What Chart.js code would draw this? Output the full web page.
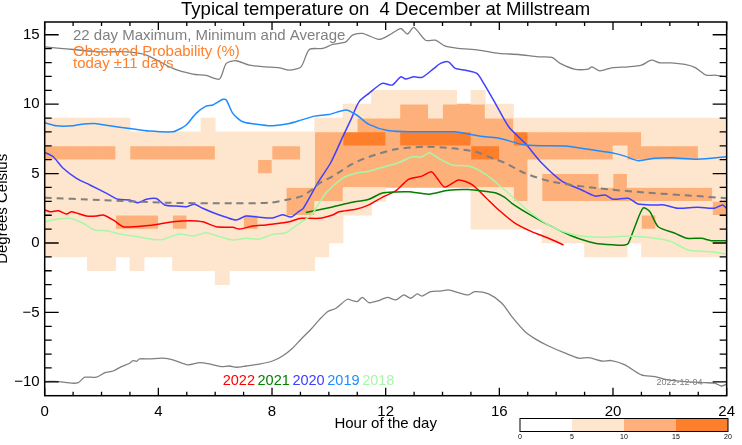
<!DOCTYPE html>
<html lang="en">
<head>
<meta charset="UTF-8">
<title>Typical temperature on 4 December at Millstream</title>
<script src="https://cdn.jsdelivr.net/npm/chart.js@4"></script>
<style>
  html, body { margin: 0; padding: 0; background: #fff; }
</style>
</head>
<body>
<canvas id="chart" width="742" height="445"></canvas>
<script>
// series, as [hour, degrees C]
const max22 = [[0,14.13],[0.54,14.02],[1.0,13.94],[1.94,13.77],[2.88,13.77],[3.58,13.54],[4.51,12.58],[5.21,12.17],[5.68,12.07],[6.15,11.81],[6.39,12.94],[6.74,13.13],[7.2,12.81],[7.79,12.69],[8.26,12.62],[8.61,12.45],[9.02,12.69],[9.31,13.94],[9.78,14.02],[10.13,14.3],[10.6,14.49],[10.83,14.97],[11.18,15.1],[11.76,14.67],[12.12,14.97],[12.53,15.45],[12.76,15.05],[12.99,15.53],[13.4,14.61],[13.75,14.61],[14.1,14.18],[14.57,14.02],[15.27,13.9],[15.98,13.66],[16.68,13.58],[17.38,13.41],[17.85,13.37],[18.14,12.94],[18.67,12.51],[19.13,12.53],[19.25,12.69],[19.54,12.4],[19.95,12.62],[20.54,12.69],[21.0,12.81],[21.35,13.17],[21.65,12.98],[22.05,12.98],[22.53,12.87],[22.88,12.65],[23.28,12.09],[23.58,12.09],[24,11.97]];
const min22 = [[0,-9.98],[0.48,-9.98],[0.95,-10.1],[1.18,-10.06],[1.41,-9.67],[1.82,-9.67],[2.12,-9.34],[2.41,-9.22],[2.7,-8.9],[2.99,-8.66],[3.11,-8.47],[3.23,-8.52],[3.34,-8.35],[3.69,-8.35],[4.16,-8.3],[4.51,-8.42],[5.04,-8.78],[5.45,-8.62],[5.8,-8.71],[6.21,-8.9],[6.5,-8.86],[6.74,-8.95],[7.09,-8.86],[7.55,-8.73],[8.02,-8.5],[8.37,-8.14],[8.72,-7.58],[9.02,-6.93],[9.37,-6.21],[9.66,-5.54],[9.95,-4.95],[10.25,-4.7],[10.65,-4.05],[10.83,-4.15],[11.0,-4.22],[11.18,-3.91],[11.41,-4.3],[11.76,-4.15],[12.06,-3.91],[12.35,-4.1],[12.64,-3.74],[12.88,-3.98],[13.11,-3.67],[13.28,-3.82],[13.58,-3.5],[13.93,-3.46],[14.21,-3.38],[14.56,-3.58],[14.91,-3.74],[15.13,-3.5],[15.62,-3.67],[16.09,-4.34],[16.44,-5.3],[16.91,-6.39],[17.32,-6.98],[17.73,-7.42],[18.32,-7.94],[18.8,-8.3],[19.15,-8.26],[19.6,-8.5],[19.95,-8.47],[20.42,-8.78],[21.0,-9.5],[21.47,-9.63],[21.94,-9.86],[22.53,-9.98],[23.23,-10.06],[23.58,-10.1],[23.81,-10.3],[24,-10.17]];
const avg22 = [[0,3.26],[1.94,3.1],[4.28,2.9],[6.62,2.86],[7.91,2.9],[8.61,3.15],[9.07,3.4],[9.43,3.87],[9.66,4.3],[10.13,4.8],[10.83,5.7],[11.41,6.2],[12.35,6.75],[13.4,6.93],[14.34,6.82],[15.16,6.57],[15.86,6.03],[16.19,5.78],[16.91,5.02],[17.85,4.41],[19.48,3.94],[21.23,3.62],[22.98,3.38],[24,3.22]];
const y2022 = [[0,2.38],[0.19,2.25],[0.48,2.33],[0.77,2.09],[0.95,2.25],[1.47,1.94],[1.82,1.94],[2.06,2.02],[2.41,1.66],[2.76,1.17],[3.11,1.17],[3.46,1.22],[4.05,1.37],[4.51,1.53],[5.1,1.61],[5.56,1.53],[6.04,1.17],[6.62,1.13],[6.85,1.01],[7.32,1.22],[7.79,1.3],[8.26,1.42],[8.61,1.53],[9.02,1.78],[9.66,1.78],[10.13,2.02],[10.36,2.25],[10.95,2.43],[11.41,2.75],[11.88,3.29],[12.35,3.75],[12.82,4.6],[13.28,4.82],[13.61,5.13],[13.81,4.66],[14.08,4.03],[14.57,4.54],[15.04,4.2],[15.51,3.3],[15.98,2.38],[16.56,1.42],[17.14,0.82],[17.73,0.34],[18.26,-0.14]];
const y2021 = [[9.19,2.2],[10.13,2.6],[10.83,2.93],[11.41,3.15],[11.88,3.6],[12.35,3.68],[12.82,3.69],[13.52,3.52],[14.21,3.8],[14.91,3.85],[15.62,3.69],[15.86,3.62],[16.19,3.29],[16.44,2.86],[17.03,2.1],[17.73,1.3],[18.55,0.5],[19.37,-0.02],[20.07,-0.14],[20.42,-0.14],[20.54,-0.02],[20.77,1.17],[21.06,2.52],[21.3,2.25],[21.59,1.17],[22.18,0.7],[22.6,0.34],[23.11,0.34],[23.46,0.17],[24,0.17]];
const y2020 = [[0,6.53],[0.3,6.21],[0.65,5.38],[1.12,4.66],[1.59,4.18],[2.18,3.58],[2.58,3.15],[2.99,3.1],[3.28,2.9],[3.58,3.15],[3.93,3.2],[4.22,2.74],[4.63,2.66],[4.98,2.61],[5.27,2.79],[5.56,2.5],[5.98,2.14],[6.39,1.85],[6.74,1.66],[7.09,1.94],[7.55,1.85],[8.02,1.8],[8.37,2.04],[8.67,1.87],[8.96,2.3],[9.1,2.5],[9.6,4.3],[10.07,5.8],[10.5,7.7],[10.8,9.0],[11.06,10.17],[11.41,10.78],[11.88,11.5],[12.23,11.38],[12.53,11.97],[12.7,11.81],[12.99,11.97],[13.28,11.93],[13.7,12.58],[13.93,12.94],[14.21,13.05],[14.45,12.58],[14.81,12.45],[15.21,12.22],[15.45,11.5],[15.86,10.06],[16.33,8.37],[16.91,7.18],[17.5,5.74],[18.2,4.46],[18.9,3.82],[19.37,3.38],[19.72,3.46],[20.01,3.15],[20.54,3.22],[20.88,2.81],[21.47,2.74],[21.8,2.74],[22.28,2.5],[22.98,2.57],[23.56,2.5],[23.85,2.74],[24,2.5]];
const y2019 = [[0,8.66],[0.42,8.44],[1.0,8.44],[1.24,8.54],[1.76,8.61],[2.29,8.44],[2.99,8.25],[3.69,8.06],[4.51,8.01],[4.75,8.21],[4.98,8.5],[5.33,9.34],[5.68,9.86],[5.92,9.94],[6.27,10.35],[6.39,10.3],[6.62,9.34],[6.97,8.73],[7.67,8.5],[8.02,8.44],[8.61,8.61],[9.02,8.85],[9.5,9.14],[10.0,9.25],[10.6,9.58],[10.98,9.22],[11.41,8.55],[12.12,8.08],[13.05,8.01],[13.75,8.01],[14.45,8.01],[14.91,7.85],[15.51,7.65],[16.0,7.55],[16.91,7.06],[18.32,6.98],[19.13,6.75],[19.95,6.5],[20.42,6.26],[20.88,5.93],[21.47,6.1],[22.05,6.14],[22.98,6.03],[24,6.21]];
const y2018 = [[0,1.53],[0.42,1.71],[0.89,1.78],[1.35,1.42],[1.76,0.94],[2.18,0.89],[2.64,0.65],[3.23,0.46],[3.81,0.26],[4.16,0.26],[4.75,0.65],[5.21,0.5],[5.68,0.74],[6.15,0.46],[6.62,0.22],[7.09,0.34],[7.55,0.28],[8.02,0.62],[8.49,0.74],[8.96,1.42],[9.31,1.89],[9.43,2.14],[9.9,3.6],[10.48,4.66],[10.95,5.02],[11.41,5.17],[11.76,5.38],[12.47,5.8],[12.93,6.21],[13.28,6.21],[13.53,6.5],[13.86,6.1],[14.34,5.62],[14.91,5.54],[15.51,4.96],[16.19,3.82],[17.03,2.3],[17.85,1.17],[18.67,0.58],[19.6,0.41],[20.54,0.5],[21.47,0.34],[22.05,0.1],[22.65,-0.5],[23.34,-0.62],[24,-0.79]];

// observed probability, 48 half-hour columns per 1 degree band
// 0 = under 5 %, 1 = 5-10 %, 2 = 10-15 %, 3 = 15-20 %
const bandBottoms = [10, 9, 8, 7, 6, 5, 4, 3, 2, 1, 0, -1, -2, -3];
const bandRows = [
  "00000000 00000000 00000001 11111010 00000000 00000000",
  "00000000 00000000 00000111 12212221 10000000 00000000",
  "11111100 00010000 00011122 22222222 21111111 11111111",
  "11111111 11111111 11122333 23333322 23222222 22111111",
  "22222122 22221111 22122222 22222233 22222222 12222211",
  "11111111 11111112 11122222 22222222 22111111 11111111",
  "11111111 11111111 11122222 22222222 22122221 21111111",
  "11111111 11111111 12222111 00000011 12122222 22222221",
  "11111111 11111111 12211110 00000011 11111111 11111112",
  "11111222 12111121 11111000 00000011 11111111 11211111",
  "11111111 11111111 11111000 00000000 00011111 11111111",
  "11111111 11111111 11110000 00000000 00000011 10111111",
  "00011010 01111111 11100000 00000000 00000000 00000000",
  "00000000 00001000 00000000 00000000 00000000 00000000"
];
const levelColours = ['#fee6ce', '#fdb07a', '#fd7e2b'];
const scaleTicks = [0, 5, 10, 15, 20];

const years = ['2022', '2021', '2020', '2019', '2018'];
const yearColours = ['#ff0000', '#007f00', '#4040ff', '#1e8cff', '#a8f7a8'];

const FONT = '"Liberation Sans", Arial, Helvetica, sans-serif';
Chart.defaults.font.family = FONT;
Chart.defaults.color = '#000';

const rows = bandRows.map(s => s.replace(/ /g, ''));

// merge vertical runs of the same level into one floating bar
function cells(level) {
  const out = [];
  for (let c = 0; c < 48; c++) {
    let start = null;
    for (let r = rows.length - 1; r >= -1; r--) {
      const hit = r >= 0 && rows[r][c] === String(level);
      if (hit && start === null) start = bandBottoms[r];
      if (!hit && start !== null) {
        out.push({ x: c * 0.5 + 0.25, y: [start, bandBottoms[r + 1] + 1] });
        start = null;
      }
    }
  }
  return out;
}

function line(label, pts, colour, width, dash) {
  return {
    type: 'line', label: label,
    data: pts.map(p => ({ x: p[0], y: p[1] })),
    borderColor: colour, borderWidth: width, borderDash: dash || [],
    pointRadius: 0, tension: 0.25, fill: false, order: 1
  };
}

const datasets = [1, 2, 3].map(l => ({
  type: 'bar', label: 'p' + l, data: cells(l),
  backgroundColor: levelColours[l - 1], borderWidth: 0,
  barPercentage: 1, categoryPercentage: 1, grouped: false, order: 10
}));
datasets.push(line('max', max22, '#7f7f7f', 1.3));
datasets.push(line('min', min22, '#7f7f7f', 1.3));
datasets.push(line('avg', avg22, '#7f7f7f', 2, [7, 5]));
[y2018, y2019, y2020, y2021, y2022].forEach((s, i) => {
  const k = 4 - i;
  datasets.push(line(years[k], s, yearColours[k], 1.5));
});

const decor = {
  id: 'decor',
  afterDatasetsDraw(chart) {
    const { ctx, chartArea: a, scales: { x, y } } = chart;
    ctx.save();
    // inward ticks on all four sides
    ctx.strokeStyle = '#000';
    ctx.lineWidth = 1.3;
    ctx.beginPath();
    for (let h = 0; h <= 24; h++) {
      const px = x.getPixelForValue(h), len = h % 4 === 0 ? 8 : 4;
      ctx.moveTo(px, a.bottom); ctx.lineTo(px, a.bottom - len);
      ctx.moveTo(px, a.top); ctx.lineTo(px, a.top + len);
    }
    for (let v = -10; v <= 15; v++) {
      const py = y.getPixelForValue(v), len = v % 5 === 0 ? 14 : 7;
      ctx.moveTo(a.left, py); ctx.lineTo(a.left + len, py);
      ctx.moveTo(a.right, py); ctx.lineTo(a.right - len, py);
    }
    ctx.stroke();
    ctx.lineWidth = 1.5;
    ctx.strokeRect(a.left, a.top, a.right - a.left, a.bottom - a.top);

    // title, centred over the plot box
    ctx.fillStyle = '#000';
    ctx.textAlign = 'center';
    ctx.textBaseline = 'alphabetic';
    ctx.font = '18.5px ' + FONT;
    ctx.fillText('Typical temperature on  4 December at Millstream', (a.left + a.right) / 2, 14.5);

    // notes in the top left corner
    ctx.textAlign = 'left';
    ctx.font = '15px ' + FONT;
    ctx.fillStyle = '#808080';
    ctx.fillText('22 day Maximum, Minimum and Average', 73, 39.5);
    ctx.fillStyle = '#ff7f2a';
    ctx.fillText('Observed Probability (%)', 73, 55.5);
    ctx.fillText('today \u00b111 days', 73, 67.5);

    // year key
    ctx.font = '14.5px ' + FONT;
    let tx = 222.7;
    years.forEach((yr, i) => {
      ctx.fillStyle = yearColours[i];
      ctx.fillText(yr, tx, 384.5);
      tx += ctx.measureText(yr).width + 2.6;
    });
    ctx.font = '9px ' + FONT;
    ctx.fillStyle = '#808080';
    ctx.fillText('2022-12-04', 656.5, 384.5);

    // colour bar
    const bx0 = 520, bx1 = 728, by = 418.5, bh = 13;
    const seg = (bx1 - bx0) / 4;
    ['#ffffff'].concat(levelColours).forEach((c, i) => {
      ctx.fillStyle = c;
      ctx.fillRect(bx0 + i * seg, by, seg, bh);
    });
    ctx.lineWidth = 1;
    ctx.strokeStyle = '#000';
    ctx.strokeRect(bx0, by, bx1 - bx0, bh);
    ctx.font = '7px ' + FONT;
    ctx.fillStyle = '#000';
    ctx.textAlign = 'center';
    ctx.textBaseline = 'middle';
    scaleTicks.forEach((t, i) => ctx.fillText(String(t), bx0 + i * seg, 437.5));
    ctx.restore();
  }
};

new Chart(document.getElementById('chart'), {
  type: 'bar',
  data: { datasets: datasets },
  options: {
    responsive: false,
    animation: false,
    layout: { padding: { left: 0, right: 14, top: 22, bottom: 0 } },
    plugins: {
      legend: { display: false },
      tooltip: { enabled: false },
      title: { display: false }
    },
    scales: {
      x: {
        type: 'linear', min: 0, max: 24, offset: false,
        grid: { display: false, drawTicks: false },
        border: { display: false },
        afterBuildTicks: s => { s.ticks = [0, 4, 8, 12, 16, 20, 24].map(v => ({ value: v })); },
        ticks: { autoSkip: false, maxRotation: 0, padding: 7, font: { size: 15 } },
        title: { display: true, text: 'Hour of the day', font: { size: 15 }, padding: { top: 0, bottom: 12 } },
        afterFit: s => { s.height = 49.3; }
      },
      y: {
        type: 'linear', min: -11, max: 15.92,
        grid: { display: false, drawTicks: false },
        border: { display: false },
        afterBuildTicks: s => { s.ticks = [-10, -5, 0, 5, 10, 15].map(v => ({ value: v })); },
        ticks: {
          padding: 5, font: { size: 15 },
          callback: v => (v < 0 ? '\u2212' + (-v) : String(v))
        },
        title: { display: true, text: 'Degrees Celsius', font: { size: 15, lineHeight: 0.7 }, padding: { top: -2, bottom: 0 } },
        afterFit: s => { s.width = 44.7; }
      }
    }
  },
  plugins: [decor]
});
</script>
</body>
</html>
